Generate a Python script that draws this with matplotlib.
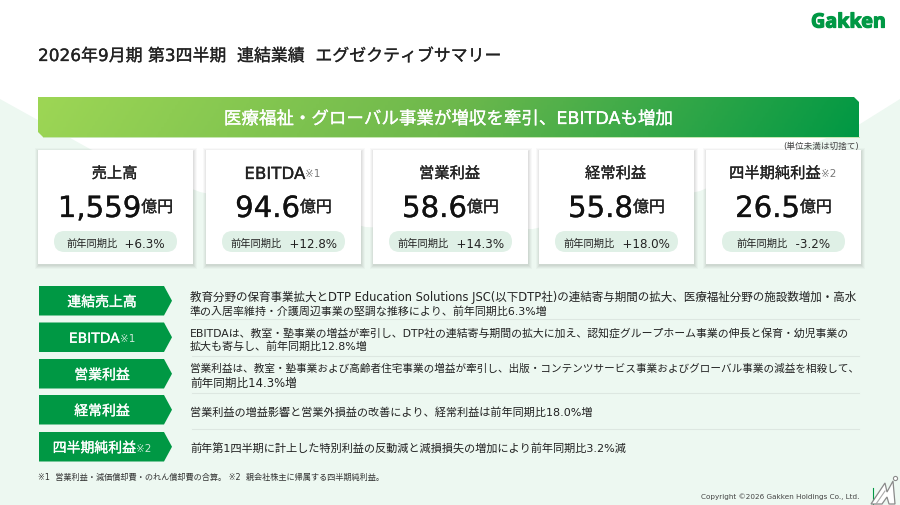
import matplotlib
matplotlib.use('Agg')
import matplotlib.pyplot as plt
import matplotlib.patheffects as pe
from matplotlib.colors import LinearSegmentedColormap
from matplotlib.patches import Polygon, Rectangle, FancyBboxPatch
import numpy as np

plt.rcParams['font.family'] = ['DejaVu Sans', 'Noto Sans CJK JP']

# Datos de la lamina
titulo = '2026年9月期 第3四半期  連結業績  エグゼクティブサマリー'
banner = '医療福祉・グローバル事業が増収を牽引、EBITDAも増加'
nota_unidad = '(単位未満は切捨て)'
kpi_nombres = ['売上高', 'EBITDA', '営業利益', '経常利益', '四半期純利益']
kpi_notas = ['', '※1', '', '', '※2']
kpi_valores = ['1,559', '94.6', '58.6', '55.8', '26.5']
kpi_unidad = '億円'
kpi_yoy = ['+6.3%', '+12.8%', '+14.3%', '+18.0%', '-3.2%']
yoy_label = '前年同期比'
fila_nombres = ['連結売上高', 'EBITDA', '営業利益', '経常利益', '四半期純利益']
fila_notas = ['', '※1', '', '', '※2']
fila_textos = [
    ['教育分野の保育事業拡大とDTP Education Solutions JSC(以下DTP社)の連結寄与期間の拡大、医療福祉分野の施設数増加・高水',
     '準の入居率維持・介護周辺事業の堅調な推移により、前年同期比6.3%増'],
    ['EBITDAは、教室・塾事業の増益が牽引し、DTP社の連結寄与期間の拡大に加え、認知症グループホーム事業の伸長と保育・幼児事業の',
     '拡大も寄与し、前年同期比12.8%増'],
    ['営業利益は、教室・塾事業および高齢者住宅事業の増益が牽引し、出版・コンテンツサービス事業およびグローバル事業の減益を相殺して、',
     '前年同期比14.3%増'],
    ['営業利益の増益影響と営業外損益の改善により、経常利益は前年同期比18.0%増'],
    ['前年第1四半期に計上した特別利益の反動減と減損損失の増加により前年同期比3.2%減'],
]
pie = '※1  営業利益・減価償却費・のれん償却費の合算。 ※2  親会社株主に帰属する四半期純利益。'
copyright_txt = 'Copyright ©2026 Gakken Holdings Co., Ltd.'

VERDE = '#009844'
TEXTO = '#222222'
PALIDO = '#EDF8F1'

# Lienzo en pixeles
fig = plt.figure(figsize=(9, 5.06), dpi=100)
ax = fig.add_axes([0, 0, 1, 1])
ax.axis('off')
renderer = fig.canvas.get_renderer()


def ajustar_ejes():
    ax.set_xlim(0, 900)
    ax.set_ylim(506, 0)


def fila_texto(cx, y, partes):
    # Centra varios trozos de texto como si fueran uno solo
    textos = [ax.text(0, y, p[0], fontsize=p[1], color=p[2], va='center_baseline', ha='left', zorder=6)
              for p in partes]
    anchos = [t.get_window_extent(renderer).width for t in textos]
    x = cx - sum(anchos) / 2
    for t, w in zip(textos, anchos):
        t.set_x(x)
        x += w


def texto_ajustado(x0, x1, y, s, fs=8.0, color=TEXTO):
    # Ajusta el tamano de letra para que la linea termine donde en el original
    t = ax.text(x0, y, s, fontsize=fs, color=color, ha='left', va='center_baseline', zorder=6)
    w = t.get_window_extent(renderer).width
    t.set_fontsize(fs * (x1 - x0) / w)
    return t


ajustar_ejes()

# Fondo verde con el valle blanco
ax.add_patch(Polygon([(0, 100), (90, 150), (200, 193), (366, 228), (440, 232), (533, 230),
                      (700, 192), (860, 125), (900, 100), (900, 506), (0, 506)],
                     closed=True, fc=PALIDO, ec='none', zorder=0))

# Banner con degradado
puntos_banner = [(38, 98), (854, 98), (859, 103), (859, 138), (43, 138), (38, 133)]
clip = Polygon(puntos_banner, closed=True, transform=ax.transData, fc='none', ec='none')
ax.add_patch(clip)
cmap = LinearSegmentedColormap.from_list('banner', ['#9DD655', '#6DB84C', VERDE])
gx, gy = np.meshgrid(np.linspace(0, 1, 300), np.linspace(0, 1, 20))
im = ax.imshow(gx + 0.03 * gy, extent=(38, 859, 138, 98), cmap=cmap, aspect='auto', zorder=2, vmin=0, vmax=1.03)
im.set_clip_path(clip)
ajustar_ejes()
ax.plot([43, 859], [138.3, 138.3], color='#C5E6B0', lw=0.7, zorder=2)
ax.text(448.5, 118, banner, fontsize=12.6, color='white', ha='center', va='center_baseline', zorder=6)
texto_ajustado(783, 859, 145.5, nota_unidad, fs=6, color='#444444')

# Titulo y logo
texto_ajustado(38, 500, 55, titulo, fs=12)
logo = ax.text(886, 21, 'Gakken', fontsize=14.2, color=VERDE, ha='right', va='center_baseline',
               family='Open Sans', weight='bold', zorder=6)

# Tarjetas KPI
card_x = [38, 206, 373, 539, 706]
card_w = 155
for i, nombre in enumerate(kpi_nombres):
    x0 = card_x[i]
    cx = x0 + card_w / 2
    for d, a in zip([4, 3, 2, 1], [0.025, 0.03, 0.035, 0.04]):
        ax.add_patch(Rectangle((x0 - d + 1, 151 - d + 2), card_w + 2 * d - 1, 114 + 2 * d - 1,
                               fc='#000000', ec='none', alpha=a, zorder=3))
    ax.add_patch(Rectangle((x0, 151), card_w, 114, fc='white', ec='none', zorder=4))

    fs_titulo = 12 if nombre == 'EBITDA' else 11
    partes = [(nombre, fs_titulo, TEXTO)]
    if kpi_notas[i]:
        partes.append((kpi_notas[i], 7.5, '#777777'))
    fila_texto(cx - 1, 173, partes)

    fila_texto(cx, 207, [(kpi_valores[i], 21, '#111111'), (kpi_unidad, 11.5, TEXTO)])

    ax.add_patch(FancyBboxPatch((x0 + 16 + 10.5, 232 + 10.5), 123 - 21, 0, boxstyle='round,pad=10.5,rounding_size=10.5',
                                fc='#DFF0E6', ec='none', zorder=5))
    fila_texto(cx, 243, [(yoy_label, 7.4, TEXTO), ('  ' + kpi_yoy[i], 8.6, TEXTO)])

# Filas de comentario
fila_y0 = [287, 323.5, 360, 396, 433]
fila_alto = 29.5
lineas_y = [[296, 310], [332, 346], [368, 382], [411.5], [448]]
lineas_fin = [[859, 547], [850, 369], [858, 297], [593], [629]]
for i, nombre in enumerate(fila_nombres):
    y0 = fila_y0[i]
    ax.add_patch(Polygon([(39, y0), (164, y0), (172, y0 + fila_alto / 2), (164, y0 + fila_alto), (39, y0 + fila_alto)],
                         closed=True, fc=VERDE, ec='none', zorder=4))
    partes = [(nombre, 10, 'white')]
    if fila_notas[i]:
        partes.append((fila_notas[i], 7.5, '#CDE8D8'))
    fila_texto(102, y0 + fila_alto / 2, partes)
    for linea, y, fin in zip(fila_textos[i], lineas_y[i], lineas_fin[i]):
        texto_ajustado(190, fin, y, linea)

for y in [319.5, 356.5, 393.5, 429.5]:
    ax.plot([192, 859], [y, y], color='#DDE7E1', lw=0.8, zorder=2)

# Pie de pagina
texto_ajustado(38, 387, 476, pie, fs=6, color='#333333')
texto_ajustado(701, 860, 496, copyright_txt, fs=5.2, color='#444444')

# Marca de agua de la esquina
ax.plot([872.7, 872.7], [489, 506], color=VERDE, lw=0.8, zorder=6)
ax.add_patch(Polygon([(871, 505), (885, 484), (887, 493), (893, 482), (895, 505), (889, 505), (887, 498), (882, 505)],
                     closed=True, fc='white', ec='#8A8A8A', lw=0.9, zorder=6))
ax.plot([876, 885], [505, 492], color='#AAAAAA', lw=0.8, zorder=7)
ax.plot([895], [478.5], marker='o', ms=3, mfc='white', mec='#8A8A8A', mew=0.8, zorder=7)

# Engrosamos solo las letras grandes, el original es algo mas pesado
for t in ax.texts:
    if t.get_fontsize() >= 10:
        t.set_path_effects([pe.Stroke(linewidth=0.2, foreground=t.get_color()), pe.Normal()])
logo.set_path_effects([pe.Stroke(linewidth=0.9, foreground=VERDE), pe.Normal()])

fig.savefig('out.png', dpi=100)
